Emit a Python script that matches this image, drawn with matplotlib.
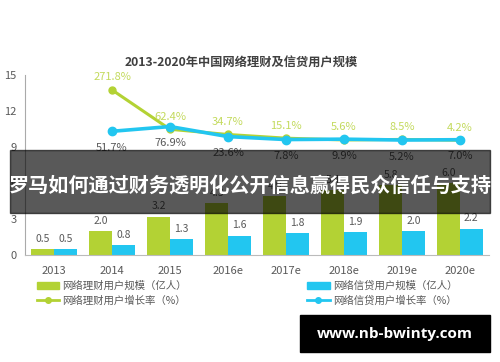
import matplotlib.pyplot as plt
from matplotlib.patches import Patch, Rectangle
from matplotlib.lines import Line2D

plt.rcParams['font.family'] = ['Noto Sans CJK SC', 'DejaVu Sans']

years = ['2013', '2014', '2015', '2016e', '2017e', '2018e', '2019e', '2020e']
wealth_users = [0.5, 2.0, 3.2, 4.3, 4.9, 5.4, 5.8, 6.0]
loan_users = [0.5, 0.8, 1.3, 1.6, 1.8, 1.9, 2.0, 2.2]
wealth_growth = [None, 271.8, 62.4, 34.7, 15.1, 5.6, 8.5, 4.2]
loan_growth = [None, 51.7, 76.9, 23.6, 7.8, 9.9, 5.2, 7.0]

GREEN = '#b3d234'
BLUE = '#22c6f0'
GREEN_TXT = '#c3da5c'
GRAY = '#595959'

fig = plt.figure(figsize=(5, 3.62), dpi=100)
ax = fig.add_axes([0.05, 0.2956, 0.928, 0.4972])

x = list(range(len(years)))
w = 0.39
ax.bar([i - w / 2 for i in x], wealth_users, w, color=GREEN, zorder=2)
ax.bar([i + w / 2 for i in x], loan_users, w, color=BLUE, zorder=2)
for i in x:
    ax.text(i - w / 2, wealth_users[i] + 0.45, f'{wealth_users[i]:.1f}', ha='center', va='bottom',
            fontsize=7.5, color=GRAY)
    ax.text(i + w / 2, loan_users[i] + 0.45, f'{loan_users[i]:.1f}', ha='center', va='bottom',
            fontsize=7.5, color=GRAY)

ax.set_xlim(-0.5, 7.5)
ax.set_ylim(0, 15)
ax.set_yticks([0, 3, 6, 9, 12, 15])
ax.set_xticks(x)
ax.set_xticklabels(years)
ax.tick_params(axis='both', length=0, labelsize=8, colors=GRAY)
ax.tick_params(axis='y', pad=6)
ax.tick_params(axis='x', pad=8)
for s in ['top', 'right']:
    ax.spines[s].set_visible(False)
ax.spines['left'].set_color('#aaaaaa')
ax.spines['bottom'].set_color('#bbbbbb')

ax2 = ax.twinx()
ax2.set_ylim(-606, 351)
ax2.axis('off')
gx = [i for i in x if wealth_growth[i] is not None]
gy = [wealth_growth[i] for i in gx]
bx = [i for i in x if loan_growth[i] is not None]
by = [loan_growth[i] for i in bx]
ax2.plot(gx, gy, color=GREEN, lw=2.2, marker='o', ms=5, zorder=3)
ax2.plot(bx, by, color=BLUE, lw=2.6, marker='o', ms=6, zorder=3)
for i, v in zip(gx, gy):
    ax2.text(i, v + 40, f'{v}%', ha='center', va='bottom', fontsize=8, color=GREEN_TXT)
for i, v in zip(bx, by):
    ax2.text(i, v - 62, f'{v}%', ha='center', va='top', fontsize=8, color=GRAY)

fig.text(0.483, 0.826, '2013-2020年中国网络理财及信贷用户规模', ha='center', va='center',
         fontsize=8.8, fontweight='bold', color='#404040')

handles = [Patch(color=GREEN), Line2D([], [], color=GREEN, lw=2, marker='o', ms=4),
           Patch(color=BLUE), Line2D([], [], color=BLUE, lw=2, marker='o', ms=4)]
labels = ['网络理财用户规模（亿人）', '网络理财用户增长率（%）',
          '网络信贷用户规模（亿人）', '网络信贷用户增长率（%）']
leg = fig.legend(handles, labels, ncol=2, loc='center', bbox_to_anchor=(0.494, 0.19),
                 frameon=False, fontsize=7.5, handlelength=2.2, handletextpad=0.3,
                 columnspacing=11.5, labelspacing=0.45)
for t in leg.get_texts():
    t.set_color(GRAY)

fig.patches.append(Rectangle((0.02, 1 - 213 / 362), 0.96, 63 / 362, transform=fig.transFigure,
                             color='#000000', alpha=0.65, zorder=10))
fig.text(0.5, 1 - 185 / 362, '罗马如何通过财务透明化公开信息赢得民众信任与支持', ha='center',
         va='center', fontsize=14.5, fontweight='bold', color='white', zorder=11)

fig.patches.append(Rectangle((0.6, 1 - 352 / 362), 0.38, 37 / 362, transform=fig.transFigure,
                             color='black', zorder=10))
fig.text(0.79, 1 - 334 / 362, 'www.nb-bwinty.com', ha='center', va='center',
         fontsize=11, fontweight='bold', color='white', family=['Open Sans', 'DejaVu Sans'], zorder=11)

fig.savefig('out.png', dpi=100)
